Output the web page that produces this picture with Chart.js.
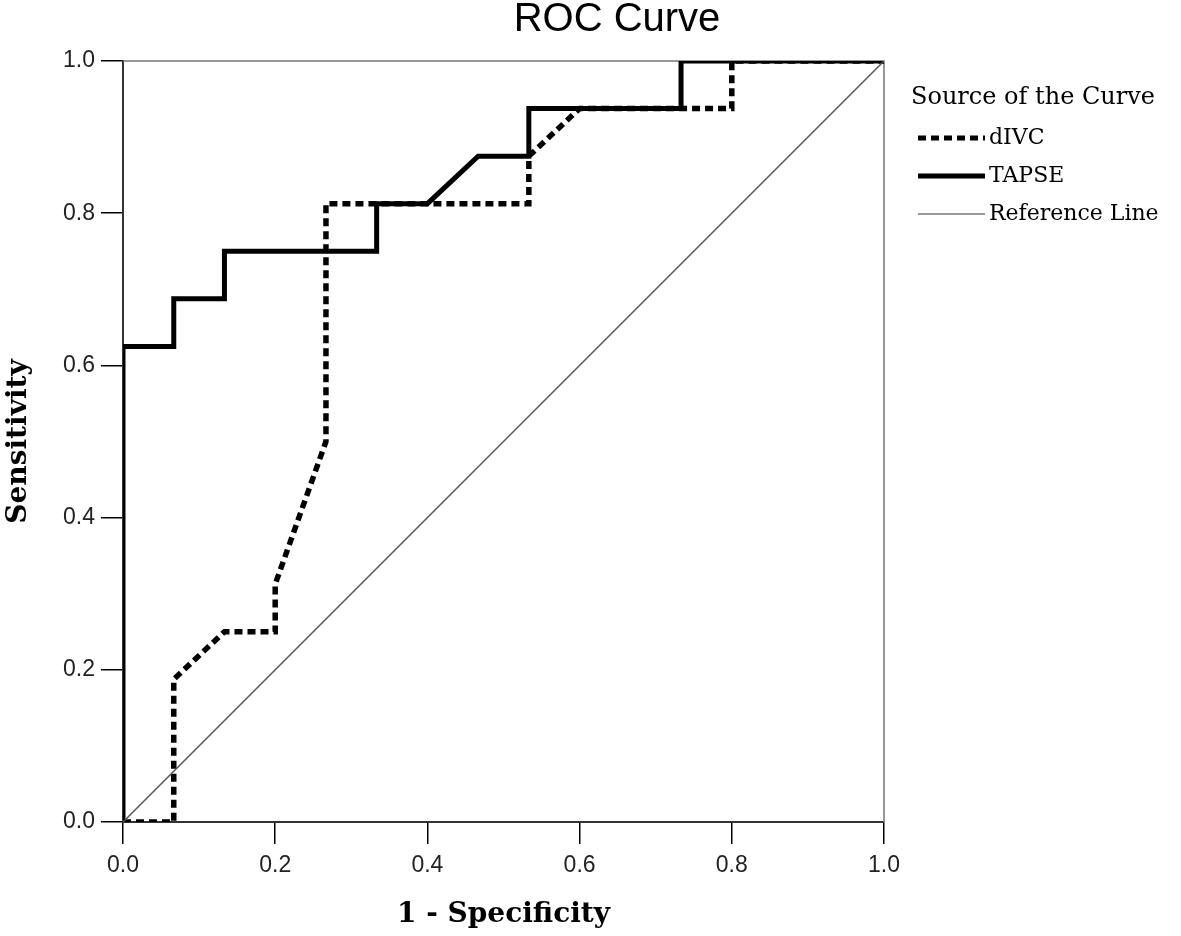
<!DOCTYPE html>
<html>
<head>
<meta charset="utf-8">
<script src="https://cdn.jsdelivr.net/npm/chart.js@4"></script>
<style>
  html, body { margin: 0; padding: 0; background: #fff; }
  #wrap { width: 1181px; height: 936px; }
</style>
</head>
<body>
<div id="wrap"><canvas id="roc"></canvas></div>
<script>
"use strict";

// Kurvdata (1 - specificitet, sensitivitet)
const tapseX = [0, 0, 0.0667, 0.0667, 0.1333, 0.1333, 0.3333, 0.3333, 0.4, 0.4667, 0.5333, 0.5333, 0.7333, 0.7333, 1];
const tapseY = [0, 0.625, 0.625, 0.6875, 0.6875, 0.75, 0.75, 0.8125, 0.8125, 0.875, 0.875, 0.9375, 0.9375, 1, 1];
const divcX = [0, 0.0667, 0.0667, 0.1333, 0.2, 0.2, 0.2667, 0.2667, 0.5333, 0.5333, 0.6, 0.8, 0.8, 1];
const divcY = [0, 0, 0.1875, 0.25, 0.25, 0.3125, 0.5, 0.8125, 0.8125, 0.875, 0.9375, 0.9375, 1, 1];
const refX = [0, 1];
const refY = [0, 1];
const tickLabels = [0, 0.2, 0.4, 0.6, 0.8, 1.0];

const seriesNames = ["dIVC", "TAPSE", "Reference Line"];
const legendTitle = "Source of the Curve";

const toPoints = (xs, ys) => xs.map((x, i) => ({ x: x, y: ys[i] }));

const tickFont = { family: "'Liberation Sans', Arial, sans-serif", size: 23 };
const serif = "'DejaVu Serif', 'Liberation Serif', serif";

// Ritar ram, titel och förklaring
const extras = {
  id: "extras",
  beforeDatasetsDraw(chart) {
    const { ctx, chartArea: a } = chart;
    ctx.save();
    ctx.strokeStyle = "#777";
    ctx.lineWidth = 1.5;
    ctx.beginPath();
    ctx.moveTo(a.left, a.top);
    ctx.lineTo(a.right, a.top);
    ctx.lineTo(a.right, a.bottom);
    ctx.stroke();
    ctx.restore();
  },
  afterDraw(chart) {
    const { ctx } = chart;
    ctx.save();
    ctx.fillStyle = "#000";
    ctx.textAlign = "center";
    ctx.textBaseline = "middle";
    ctx.font = "40px 'Liberation Sans', Arial, sans-serif";
    ctx.fillText("ROC Curve", 617, 20);

    ctx.textAlign = "left";
    ctx.font = "24px " + serif;
    ctx.fillText(legendTitle, 911, 98);
    ctx.font = "22px " + serif;
    const rows = [138, 176, 214];
    const styles = [
      { w: 5, c: "#000", d: [8, 5] },
      { w: 5, c: "#000", d: [] },
      { w: 2, c: "#999", d: [] }
    ];
    rows.forEach((y, i) => {
      ctx.beginPath();
      ctx.lineWidth = styles[i].w;
      ctx.strokeStyle = styles[i].c;
      ctx.setLineDash(styles[i].d);
      ctx.moveTo(918, y);
      ctx.lineTo(985, y);
      ctx.stroke();
      ctx.setLineDash([]);
      ctx.fillText(seriesNames[i], 989, y);
    });
    ctx.restore();
  }
};

new Chart(document.getElementById("roc"), {
  type: "scatter",
  data: {
    datasets: [
      {
        label: seriesNames[2],
        data: toPoints(refX, refY),
        showLine: true,
        borderColor: "#555",
        borderWidth: 1.5,
        pointRadius: 0
      },
      {
        label: seriesNames[0],
        data: toPoints(divcX, divcY),
        showLine: true,
        borderColor: "#000",
        borderWidth: 5.5,
        borderDash: [8, 5],
        pointRadius: 0
      },
      {
        label: seriesNames[1],
        data: toPoints(tapseX, tapseY),
        showLine: true,
        borderColor: "#000",
        borderWidth: 5,
        pointRadius: 0
      }
    ]
  },
  options: {
    responsive: true,
    maintainAspectRatio: false,
    animation: false,
    layout: { padding: { top: 61, right: 297, left: 0, bottom: 0 } },
    plugins: {
      legend: { display: false },
      title: { display: false },
      tooltip: { enabled: false }
    },
    scales: {
      x: {
        type: "linear",
        min: 0,
        max: 1,
        afterBuildTicks(scale) { scale.ticks = tickLabels.map(v => ({ value: v })); },
        afterFit(scale) { scale.height = 114; },
        border: { display: true, color: "#333", width: 2 },
        grid: { drawOnChartArea: false, drawTicks: true, tickLength: 22, color: "#000", lineWidth: 1.5 },
        ticks: { color: "#222", font: tickFont, padding: 8, callback: v => v.toFixed(1) },
        title: {
          display: true,
          text: "1 - Specificity",
          color: "#000",
          font: { family: serif, size: 28, weight: "bold" },
          padding: { top: 4, bottom: 4 }
        }
      },
      y: {
        type: "linear",
        min: 0,
        max: 1,
        afterBuildTicks(scale) { scale.ticks = tickLabels.map(v => ({ value: v })); },
        afterFit(scale) { scale.width = 123; },
        border: { display: true, color: "#333", width: 2 },
        grid: { drawOnChartArea: false, drawTicks: true, tickLength: 22, color: "#000", lineWidth: 1.5 },
        ticks: { color: "#222", font: tickFont, padding: 6, callback: v => v.toFixed(1) },
        title: {
          display: true,
          text: "Sensitivity",
          color: "#000",
          font: { family: serif, size: 28, weight: "bold" },
          padding: { top: 2, bottom: 4 }
        }
      }
    }
  },
  plugins: [extras]
});
</script>
</body>
</html>
